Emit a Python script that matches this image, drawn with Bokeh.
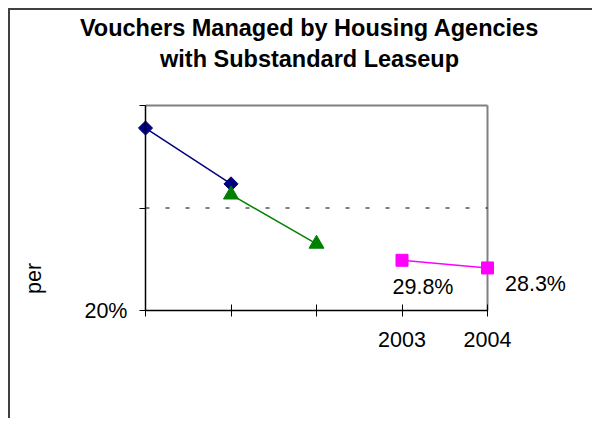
from math import pi

from bokeh.plotting import figure
from bokeh.models import Label, FixedTicker, Range1d
from bokeh.embed import file_html
from bokeh.resources import INLINE

# ---- data -------------------------------------------------------------
years = [2000, 2001, 2002, 2003, 2004]
year_labels = ["", "", "", "2003", "2004"]

blue_years = [2000, 2001]
blue_values = [55.6, 44.7]

green_years = [2001, 2002]
green_values = [42.6, 33.0]

pink_years = [2003, 2004]
pink_values = [29.8, 28.3]

y_ticks = [20, 40, 60]
y_tick_labels = ["20%", "", ""]

title_lines = ["Vouchers Managed by Housing Agencies", "with Substandard Leaseup"]
y_title = "per"

# ---- layout (pixels on the canvas) -------------------------------------
W, H = 584, 410
FONT = "Liberation Sans"
PA_LEFT, PA_RIGHT, PA_TOP, PA_BOTTOM = 135, 477, 95, 300   # plot area box

x_px = (PA_RIGHT - PA_LEFT) / (years[-1] - years[0])
y_px = (PA_BOTTOM - PA_TOP) / (y_ticks[-1] - y_ticks[0])
x_range = Range1d(years[0] - PA_LEFT / x_px, years[-1] + (W - PA_RIGHT) / x_px)
y_range = Range1d(y_ticks[0] - (H - PA_BOTTOM) / y_px, y_ticks[-1] + PA_TOP / y_px)

p = figure(
    width=W, height=H,
    output_backend="svg", toolbar_location=None,
    x_range=x_range, y_range=y_range,
    min_border=0,
    background_fill_color="white", border_fill_color="white",
    styles={"margin-left": "8px", "margin-top": "8px",
            "border-left": "2px solid #404040", "border-top": "2px solid #404040"},
)
p.title.visible = False
p.outline_line_color = None
p.xgrid.visible = False
p.ygrid.visible = False

# axes, drawn at the plot-area edges
p.xaxis.fixed_location = y_ticks[0]
p.xaxis.bounds = (years[0], years[-1])
p.xaxis.ticker = FixedTicker(ticks=years)
p.xaxis.major_label_overrides = {y: l for y, l in zip(years, year_labels)}
p.xaxis.major_tick_in = 6
p.xaxis.major_tick_out = 6
p.xaxis.major_label_standoff = 15

p.yaxis.fixed_location = years[0]
p.yaxis.bounds = (y_ticks[0], y_ticks[-1])
p.yaxis.ticker = FixedTicker(ticks=y_ticks)
p.yaxis.major_label_overrides = {t: l for t, l in zip(y_ticks, y_tick_labels)}
p.yaxis.major_tick_in = 0
p.yaxis.major_tick_out = 6
p.yaxis.major_label_standoff = 12

for ax in (p.xaxis, p.yaxis):
    ax.minor_tick_line_color = None
    ax.axis_line_color = "black"
    ax.axis_line_width = 1.5
    ax.major_tick_line_color = "black"
    ax.major_tick_line_width = 1
    ax.major_label_text_font = FONT
    ax.major_label_text_font_size = "21.5px"
    ax.major_label_text_color = "black"

# plot-area border (top and right) and dashed 40% line
p.segment(x0=[years[0], years[-1]], y0=[y_ticks[-1], y_ticks[0]],
          x1=[years[-1], years[-1]], y1=[y_ticks[-1], y_ticks[-1]],
          line_color="#808080", line_width=2)
p.segment(x0=[years[0]], y0=y_ticks[1:-1], x1=[years[-1]], y1=y_ticks[1:-1],
          line_color="black", line_width=1, line_dash="4 16")

# series
p.line(blue_years, blue_values, line_color="#000080", line_width=1.5)
p.scatter(blue_years, blue_values, marker="square", angle=pi / 4, size=10,
          fill_color="#000080", line_color="#000080")

p.line(green_years, green_values, line_color="#008000", line_width=1.5)
p.scatter(green_years, green_values, marker="triangle", size=15,
          fill_color="#008000", line_color="#008000")

p.line(pink_years, pink_values, line_color="#FF00FF", line_width=1.5)
p.scatter(pink_years, pink_values, marker="square", size=12,
          fill_color="#FF00FF", line_color="#FF00FF")

# data labels
label_offsets = [(21, -27), (48, -16)]
for xv, yv, (dx, dy) in zip(pink_years, pink_values, label_offsets):
    p.add_layout(Label(x=xv, y=yv, x_offset=dx, y_offset=dy,
                       text=f"{yv:.1f}%", text_align="center",
                       text_baseline="middle", text_font=FONT,
                       text_font_size="21.5px", text_color="black"))

# title
for text, base in zip(title_lines, [17, 48]):
    p.add_layout(Label(x=299, y=H - base, x_units="screen", y_units="screen",
                       text=text, text_align="center", text_baseline="alphabetic",
                       text_font=FONT, text_font_size="23.5px",
                       text_font_style="bold", text_color="black"))

# y axis title (only partly shown in the original)
p.add_layout(Label(x=23, y=H - 268, x_units="screen", y_units="screen",
                   text=y_title, angle=pi / 2, text_align="center",
                   text_baseline="middle", text_font=FONT,
                   text_font_size="21.5px", text_color="black"))

open("out.html", "w").write(file_html(p, INLINE))
